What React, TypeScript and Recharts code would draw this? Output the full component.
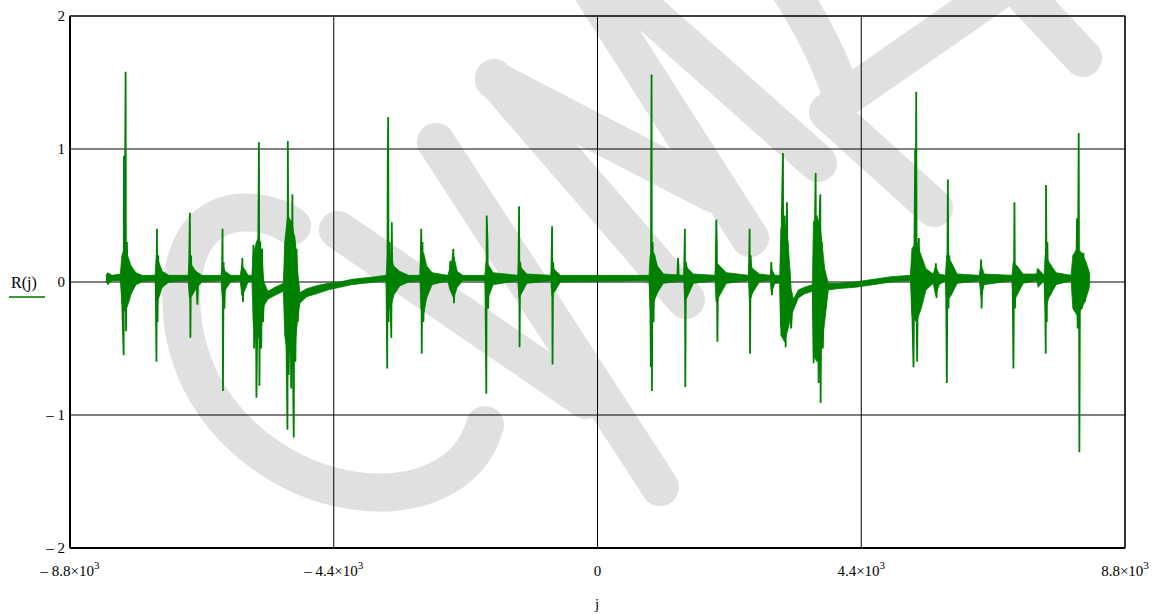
import {
  ComposedChart,
  Area,
  Line,
  XAxis,
  YAxis,
  CartesianGrid,
  ReferenceArea,
} from "recharts";

// x ticks / y ticks of the Mathcad-style plot
const xTicks = [-8800, -4400, 0, 4400, 8800];
const yTicks = [-2, -1, 0, 1, 2];

// dense noise band of R(j): [j, low, high]
const noiseEnvelope: [number, number, number][] = [
  [-8200, 0.01, 0.05], [-8170, -0.02, 0.07], [-8100, 0.01, 0.05], [-7960, 0.01, 0.06],
  [-7935, -0.15, 0.2], [-7890, -0.22, 0.26], [-7840, -0.18, 0.2], [-7780, -0.09, 0.12],
  [-7700, -0.02, 0.07], [-7600, 0.0, 0.05], [-7380, 0.01, 0.05], [-7360, -0.17, 0.2],
  [-7320, -0.12, 0.15], [-7260, -0.04, 0.08], [-7150, 0.0, 0.05], [-6830, 0.01, 0.05],
  [-6808, -0.12, 0.16], [-6760, -0.1, 0.12], [-6700, -0.05, 0.08], [-6600, 0.0, 0.05],
  [-6280, 0.01, 0.05], [-6258, -0.12, 0.13], [-6210, -0.06, 0.08], [-6120, 0.0, 0.05],
  [-5960, 0.01, 0.05], [-5935, -0.1, 0.12], [-5890, -0.07, 0.1], [-5830, 0.0, 0.05],
  [-5765, 0.01, 0.05], [-5745, -0.3, 0.2], [-5690, -0.45, 0.3], [-5640, -0.4, 0.35],
  [-5595, -0.3, 0.15], [-5565, -0.18, 0.0], [-5500, -0.13, -0.07], [-5380, -0.1, -0.04],
  [-5240, -0.07, -0.01], [-5218, -0.4, 0.3], [-5170, -0.55, 0.5], [-5100, -0.5, 0.45],
  [-5040, -0.45, 0.3], [-4995, -0.25, 0.05], [-4965, -0.16, -0.08], [-4850, -0.11, -0.05],
  [-4700, -0.09, -0.03], [-4500, -0.06, -0.01], [-4300, -0.04, 0.0], [-4100, -0.02, 0.02],
  [-3900, -0.01, 0.03], [-3700, 0.0, 0.04], [-3525, 0.01, 0.05], [-3505, -0.2, 0.2],
  [-3450, -0.2, 0.2], [-3400, -0.1, 0.12], [-3300, -0.03, 0.08], [-3150, 0.0, 0.05],
  [-2962, 0.01, 0.05], [-2945, -0.2, 0.2], [-2900, -0.24, 0.22], [-2850, -0.12, 0.12],
  [-2760, -0.02, 0.07], [-2500, 0.01, 0.05], [-2460, -0.06, 0.1], [-2400, -0.12, 0.2],
  [-2340, -0.04, 0.08], [-2250, 0.01, 0.05], [-1880, 0.01, 0.05], [-1860, -0.12, 0.15],
  [-1810, -0.1, 0.12], [-1740, -0.02, 0.07], [-1330, 0.01, 0.05], [-1312, -0.12, 0.14],
  [-1260, -0.08, 0.1], [-1180, -0.01, 0.06], [-780, 0.01, 0.05], [-762, -0.1, 0.12],
  [-710, -0.07, 0.09], [-620, 0.0, 0.05], [860, 0.01, 0.05], [878, -0.2, 0.2],
  [940, -0.15, 0.22], [1000, -0.08, 0.12], [1100, -0.01, 0.06], [1440, 0.01, 0.05],
  [1455, -0.15, 0.15], [1510, -0.1, 0.1], [1600, -0.01, 0.06], [1960, 0.01, 0.05],
  [1978, -0.15, 0.15], [2040, -0.1, 0.12], [2150, -0.01, 0.07], [2520, 0.01, 0.05],
  [2535, -0.15, 0.15], [2590, -0.08, 0.1], [2700, 0.0, 0.06], [2880, 0.01, 0.05],
  [2900, -0.08, 0.1], [2960, -0.01, 0.05], [3040, -0.01, 0.05], [3060, -0.4, 0.4],
  [3120, -0.45, 0.45], [3180, -0.35, 0.3], [3230, -0.25, -0.05], [3270, -0.21, -0.13],
  [3350, -0.12, -0.06], [3450, -0.09, -0.04], [3585, -0.07, -0.02], [3602, -0.55, 0.45],
  [3660, -0.6, 0.5], [3720, -0.55, 0.4], [3790, -0.3, 0.1], [3850, -0.06, -0.01],
  [4000, -0.05, -0.01], [4300, -0.04, 0.0], [4600, -0.02, 0.02], [4900, 0.0, 0.04],
  [5220, 0.01, 0.05], [5245, -0.25, 0.25], [5320, -0.3, 0.3], [5400, -0.2, 0.2],
  [5480, -0.06, 0.1], [5600, -0.01, 0.06], [5640, -0.1, 0.12], [5700, -0.02, 0.06],
  [5805, 0.01, 0.05], [5825, -0.15, 0.2], [5900, -0.1, 0.15], [6000, -0.01, 0.06],
  [6370, 0.01, 0.05], [6400, -0.12, 0.13], [6450, -0.02, 0.06], [6915, 0.01, 0.05],
  [6935, -0.15, 0.15], [7000, -0.1, 0.12], [7100, -0.01, 0.06], [7330, 0.01, 0.06],
  [7350, -0.04, 0.1], [7450, 0.01, 0.05], [7468, -0.2, 0.2], [7530, -0.12, 0.15],
  [7650, -0.02, 0.07], [7900, 0.01, 0.05], [7930, -0.2, 0.2], [8000, -0.25, 0.25],
  [8080, -0.2, 0.22], [8150, -0.12, 0.15], [8200, -0.05, 0.08], [8212, 0.01, 0.04],
];

// sharp peaks of each burst: [j, R(j)]
const spikeBursts: [number, number][][] = [
  [[-7940, 0.03], [-7905, -0.55], [-7900, 0.95], [-7890, 0.1], [-7872, 1.58], [-7866, -0.37], [-7850, 0.3], [-7835, -0.15], [-7810, 0.03]],
  [[-7370, 0.03], [-7358, -0.6], [-7350, 0.4], [-7340, -0.3], [-7330, 0.2], [-7315, 0.03]],
  [[-6815, 0.03], [-6800, 0.52], [-6792, -0.42], [-6780, 0.2], [-6770, -0.1], [-6690, 0.0], [-6675, -0.17], [-6660, 0.05]],
  [[-6265, 0.03], [-6255, 0.4], [-6248, -0.82], [-6238, 0.15], [-6225, -0.2], [-6210, 0.03]],
  [[-5935, 0.03], [-5925, 0.18], [-5915, -0.15], [-5900, 0.03]],
  [[-5750, 0.03], [-5740, 0.28], [-5728, -0.5], [-5700, 0.2], [-5690, -0.87], [-5660, 0.25], [-5648, 1.05], [-5640, -0.78], [-5625, 0.3], [-5610, -0.5], [-5595, 0.25], [-5580, -0.3], [-5565, -0.08]],
  [[-5225, -0.05], [-5200, 0.3], [-5185, -0.6], [-5172, -1.11], [-5166, 1.06], [-5150, -0.7], [-5130, 0.45], [-5110, -0.8], [-5090, 0.66], [-5075, -0.9], [-5067, -1.17], [-5058, 0.35], [-5040, -0.6], [-5020, 0.25], [-5000, -0.3], [-4985, -0.12]],
  [[-3520, 0.03], [-3508, -0.65], [-3500, 0.85], [-3492, 1.24], [-3485, -0.3], [-3470, 0.3], [-3440, -0.42], [-3432, 0.45], [-3420, -0.1], [-3400, 0.03]],
  [[-2955, 0.03], [-2940, 0.4], [-2932, -0.54], [-2920, 0.3], [-2905, -0.3], [-2890, 0.03]],
  [[-2470, 0.03], [-2455, 0.16], [-2445, 0.0], [-2405, 0.25], [-2395, -0.16], [-2380, 0.03]],
  [[-1870, 0.03], [-1855, -0.84], [-1848, 0.5], [-1835, 0.3], [-1825, -0.2], [-1810, 0.03]],
  [[-1320, 0.03], [-1308, 0.57], [-1300, -0.49], [-1290, 0.15], [-1275, 0.03]],
  [[-770, 0.03], [-758, 0.42], [-750, -0.62], [-740, 0.15], [-725, 0.03]],
  [[880, 0.03], [890, -0.64], [895, 0.78], [902, 1.56], [908, -0.82], [920, 0.3], [935, -0.3], [950, 0.2], [970, 0.03]],
  [[1330, 0.03], [1344, 0.18], [1355, 0.03]],
  [[1445, 0.03], [1458, 0.4], [1465, -0.79], [1475, 0.15], [1490, 0.03]],
  [[1970, 0.03], [1982, 0.47], [1990, 0.3], [2000, -0.45], [2012, 0.1], [2025, 0.03]],
  [[2525, 0.03], [2538, 0.4], [2545, -0.54], [2555, 0.2], [2570, 0.03]],
  [[2890, 0.03], [2900, 0.15], [2910, -0.1], [2920, 0.03]],
  [[3050, 0.03], [3060, -0.33], [3075, 0.5], [3094, 0.97], [3100, -0.3], [3120, 0.5], [3139, -0.49], [3150, 0.3], [3161, 0.6], [3175, -0.3], [3200, 0.1], [3230, -0.35], [3250, -0.18]],
  [[3595, -0.05], [3606, -0.61], [3630, 0.5], [3639, 0.82], [3650, -0.4], [3670, 0.45], [3689, -0.76], [3705, 0.5], [3717, 0.66], [3722, -0.91], [3740, 0.3], [3760, -0.5], [3780, 0.1], [3800, -0.2], [3820, -0.04]],
  [[5240, 0.03], [5272, -0.64], [5300, 1.0], [5308, 0.2], [5317, 1.43], [5325, -0.3], [5333, -0.6], [5345, 0.2], [5361, 0.33], [5375, -0.2], [5400, 0.1], [5430, -0.1], [5460, 0.03]],
  [[5630, 0.03], [5645, 0.14], [5655, -0.12], [5670, 0.03]],
  [[5815, 0.03], [5828, -0.76], [5845, 0.77], [5855, -0.2], [5870, 0.2], [5890, -0.05], [5905, 0.03]],
  [[6385, 0.03], [6400, 0.17], [6408, -0.2], [6420, 0.03]],
  [[6925, 0.03], [6939, -0.65], [6956, 0.6], [6965, -0.2], [6980, 0.1], [7000, 0.03]],
  [[7330, 0.03], [7345, 0.1], [7355, 0.03]],
  [[7465, 0.03], [7478, -0.54], [7483, 0.73], [7495, -0.3], [7505, 0.3], [7520, -0.1], [7540, 0.03]],
  [[7930, 0.03], [7960, -0.1], [7990, 0.15], [8000, 0.48], [8010, -0.35], [8028, 1.12], [8039, -1.28], [8050, 0.2], [8075, -0.2], [8106, 0.22], [8130, -0.15], [8160, 0.1], [8200, 0.02]],
];

const bandData = noiseEnvelope.map(([j, lo, hi]) => ({ j, range: [lo, hi] }));
const spikeData = spikeBursts.flatMap((burst) => [
  ...burst.map(([j, r]) => ({ j, r })),
  { j: burst[burst.length - 1][0] + 1, r: null },
]);

// background watermark strokes (page pixels)
const watermark = [
  "M292,226 C265,208 220,205 198,235 C175,268 176,330 200,380 C230,440 290,480 350,490 C410,500 470,480 485,425",
  "M338,230 L586,400",
  "M436,142 L660,487",
  "M494,78 L686,300",
  "M494,80 L712,193",
  "M585,-20 L750,238",
  "M612,-20 L818,163",
  "M790,-10 C815,30 835,70 842,100",
  "M828,112 L934,208",
  "M836,104 L1000,-10",
  "M1012,-18 L1083,58",
];

const font = "'Liberation Serif', 'Times New Roman', serif";
const green = "#008000";

function XTick({ x, y, payload }: any) {
  const v = payload.value as number;
  const y0 = y + 20;
  if (v === 0) {
    return (
      <text x={x} y={y0} textAnchor="middle" fontFamily={font} fontSize={15} fill="#000">
        0
      </text>
    );
  }
  const label = (v < 0 ? "\u2013 " : "") + (Math.abs(v) / 1000).toFixed(1) + "\u00d710";
  return (
    <text x={x} y={y0} textAnchor="middle" fontFamily={font} fontSize={15} fill="#000">
      <tspan>{label}</tspan>
      <tspan dy={-7} fontSize={11}>3</tspan>
    </text>
  );
}

function YTick({ x, y, payload }: any) {
  const v = payload.value as number;
  const label = v < 0 ? "\u2013 " + Math.abs(v) : String(v);
  return (
    <text x={x + 3} y={y + 5} textAnchor="end" fontFamily={font} fontSize={15} fill="#000">
      {label}
    </text>
  );
}

export default function App() {
  return (
    <div style={{ position: "fixed", left: 0, top: 0, width: 1165, height: 615, background: "#fff" }}>
      <svg width={1165} height={615} style={{ position: "absolute", left: 0, top: 0 }}>
        {watermark.map((d, i) => (
          <path key={i} d={d} fill="none" stroke="#e0e0e0" strokeWidth={38} strokeLinecap="round" strokeLinejoin="round" />
        ))}
        <text x={11} y={288} fontFamily={font} fontSize={16} fill="#000">R(j)</text>
        <line x1={9} x2={45} y1={297} y2={297} stroke="#3a9a3a" strokeWidth={2} />
        <text x={597} y={609} textAnchor="middle" fontFamily={font} fontSize={15} fill="#000">j</text>
      </svg>
      <div style={{ position: "absolute", left: 0, top: 0 }}>
        <ComposedChart width={1165} height={615} margin={{ top: 16, right: 40, left: 0, bottom: 0 }}>
          <CartesianGrid stroke="#000" strokeWidth={1} />
          <XAxis
            type="number"
            dataKey="j"
            domain={[-8800, 8800]}
            ticks={xTicks}
            allowDataOverflow
            height={67}
            tickLine={false}
            axisLine={{ stroke: "#000", strokeWidth: 2 }}
            tick={<XTick />}
            interval={0}
          />
          <YAxis
            type="number"
            domain={[-2, 2]}
            ticks={yTicks}
            allowDataOverflow
            width={70}
            tickLine={false}
            axisLine={{ stroke: "#000", strokeWidth: 2 }}
            tick={<YTick />}
            interval={0}
          />
          <ReferenceArea x1={-8800} x2={8800} y1={-2} y2={2} fill="none" stroke="#000" strokeWidth={1.2} />
          <Area
            data={bandData}
            dataKey="range"
            type="linear"
            stroke={green}
            strokeWidth={0.8}
            fill={green}
            fillOpacity={1}
            dot={false}
            activeDot={false}
            isAnimationActive={false}
          />
          <Line
            data={spikeData}
            dataKey="r"
            type="linear"
            stroke={green}
            strokeWidth={1.8}
            dot={false}
            activeDot={false}
            isAnimationActive={false}
          />
        </ComposedChart>
      </div>
    </div>
  );
}
